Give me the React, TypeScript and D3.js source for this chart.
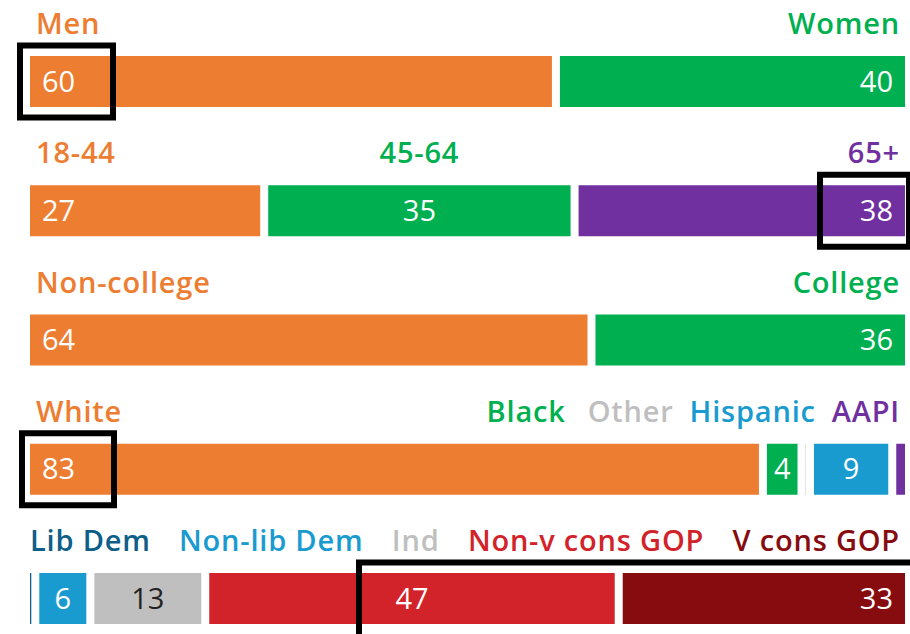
import * as d3 from 'd3'
import React, { useRef, useEffect } from 'react'

// data
const genderCats = ['Men', 'Women']
const genderVals = [60.2, 39.8]
const ageCats = ['18-44', '45-64', '65+']
const ageVals = [26.8, 35.2, 38]
const eduCats = ['Non-college', 'College']
const eduVals = [64.3, 35.7]
const raceCats = ['White', 'Black', 'Other', 'Hispanic', 'AAPI']
const raceVals = [83.4, 3.5, 0.05, 8.5, 1]
const ideoCats = ['Lib Dem', 'Non-lib Dem', 'Ind', 'Non-v cons GOP', 'V cons GOP']
const ideoVals = [0.15, 5.5, 12.5, 47.4, 33]

const ORANGE = '#ED7D31'
const GREEN = '#00B050'
const PURPLE = '#7030A0'
const BLUE = '#1A9BD0'
const DKBLUE = '#0E5E8A'
const GRAY = '#BFBFBF'
const RED = '#D2232A'
const DKRED = '#870C10'

const rows = [
  { cats: genderCats, vals: genderVals, colors: [ORANGE, GREEN], layout: 'ends' },
  { cats: ageCats, vals: ageVals, colors: [ORANGE, GREEN, PURPLE], layout: 'ends' },
  { cats: eduCats, vals: eduVals, colors: [ORANGE, GREEN], layout: 'ends' },
  { cats: raceCats, vals: raceVals, colors: [ORANGE, GREEN, GRAY, BLUE, PURPLE], layout: 'chain' },
  { cats: ideoCats, vals: ideoVals, colors: [DKBLUE, BLUE, GRAY, RED, DKRED], layout: 'justify' },
]

const width = 910
const height = 634
const left = 30
const right = 905
const gap = 8
const barH = 51
const labelFont = '"Open Sans", sans-serif'

// highlight boxes drawn over the bars (offsets from the bar ends)
const boxes = [
  { row: 0, x0: left - 10, x1: left + 83, extra: 0 },
  { row: 1, x0: right - 85, x1: right + 4, extra: 0 },
  { row: 3, x0: left - 8, x1: left + 84, extra: 0 },
  { row: 4, x0: right - 546, x1: right + 20, extra: 20 },
]

export default function App() {
  const ref = useRef(null)

  useEffect(() => {
    const svg = d3.select(ref.current)
    svg.selectAll('*').remove()

    const rowY = d3.scaleLinear().domain([0, rows.length - 1]).range([56, 573])
    const fmt = d3.format('.0f')

    rows.forEach((row, r) => {
      const n = row.vals.length
      const total = d3.sum(row.vals)
      const avail = right - left - gap * (n - 1)
      const xs = d3.scaleLinear().domain([0, total]).range([0, avail])
      const cum = d3.cumsum(row.vals)
      const segs = row.vals.map((v, i) => {
        const x = left + xs(cum[i] - v) + i * gap
        return { v, i, x, w: xs(v), cat: row.cats[i], color: row.colors[i] }
      })
      const y = rowY(r)
      const g = svg.append('g')

      g.selectAll('rect.bar')
        .data(segs)
        .enter()
        .append('rect')
        .attr('class', 'bar')
        .attr('x', d => d.x)
        .attr('y', y)
        .attr('width', d => d.w)
        .attr('height', barH)
        .attr('fill', d => d.color)

      // value labels
      g.selectAll('text.val')
        .data(segs.filter(d => d.w > 20))
        .enter()
        .append('text')
        .attr('class', 'val')
        .attr('x', d => (d.i === 0 ? d.x + 12 : d.i === n - 1 ? d.x + d.w - 12 : d.x + d.w / 2))
        .attr('y', y + barH / 2 + 10)
        .attr('text-anchor', d => (d.i === 0 ? 'start' : d.i === n - 1 ? 'end' : 'middle'))
        .style('font-family', labelFont)
        .style('font-weight', 500)
        .style('font-size', '29px')
        .style('fill', d => (d.color === GRAY ? '#222' : 'white'))
        .text(d => fmt(d.v))

      // category labels
      const labels = g.selectAll('text.cat')
        .data(segs)
        .enter()
        .append('text')
        .attr('class', 'cat')
        .attr('y', y - 22)
        .style('font-family', labelFont)
        .style('font-weight', 600)
        .style('font-size', '29px')
        .style('letter-spacing', '0.8px')
        .style('fill', d => d.color)
        .text(d => d.cat)

      const widths = labels.nodes().map(nd => nd.getBBox().width)
      const lx = new Array(n).fill(0)
      if (row.layout === 'ends') {
        segs.forEach((d, i) => {
          if (i === 0) lx[i] = left + 6
          else if (i === n - 1) lx[i] = right - 5 - widths[i]
          else lx[i] = d.x + d.w / 2 - widths[i] / 2
        })
      } else if (row.layout === 'chain') {
        lx[0] = left + 6
        let end = right - 5
        for (let i = n - 1; i > 0; i--) {
          lx[i] = end - widths[i]
          end = lx[i] - (i === 2 ? 22 : 16)
        }
      } else {
        const space = (right - 5 - left - d3.sum(widths)) / (n - 1)
        let x = left
        for (let i = 0; i < n; i++) {
          lx[i] = x
          x += widths[i] + space
        }
      }
      labels.attr('x', (d, i) => lx[i])
    })

    // highlight boxes
    svg.selectAll('rect.box')
      .data(boxes)
      .enter()
      .append('rect')
      .attr('class', 'box')
      .attr('x', d => d.x0)
      .attr('y', d => rowY(d.row) - 10.5)
      .attr('width', d => d.x1 - d.x0)
      .attr('height', d => barH + 21 + d.extra)
      .attr('fill', 'none')
      .attr('stroke', '#000')
      .attr('stroke-width', 6)
  }, [])

  return (
    <svg
      ref={ref}
      width={width}
      height={height}
      style={{ position: 'absolute', left: 0, top: 0, background: 'white' }}
    />
  )
}
